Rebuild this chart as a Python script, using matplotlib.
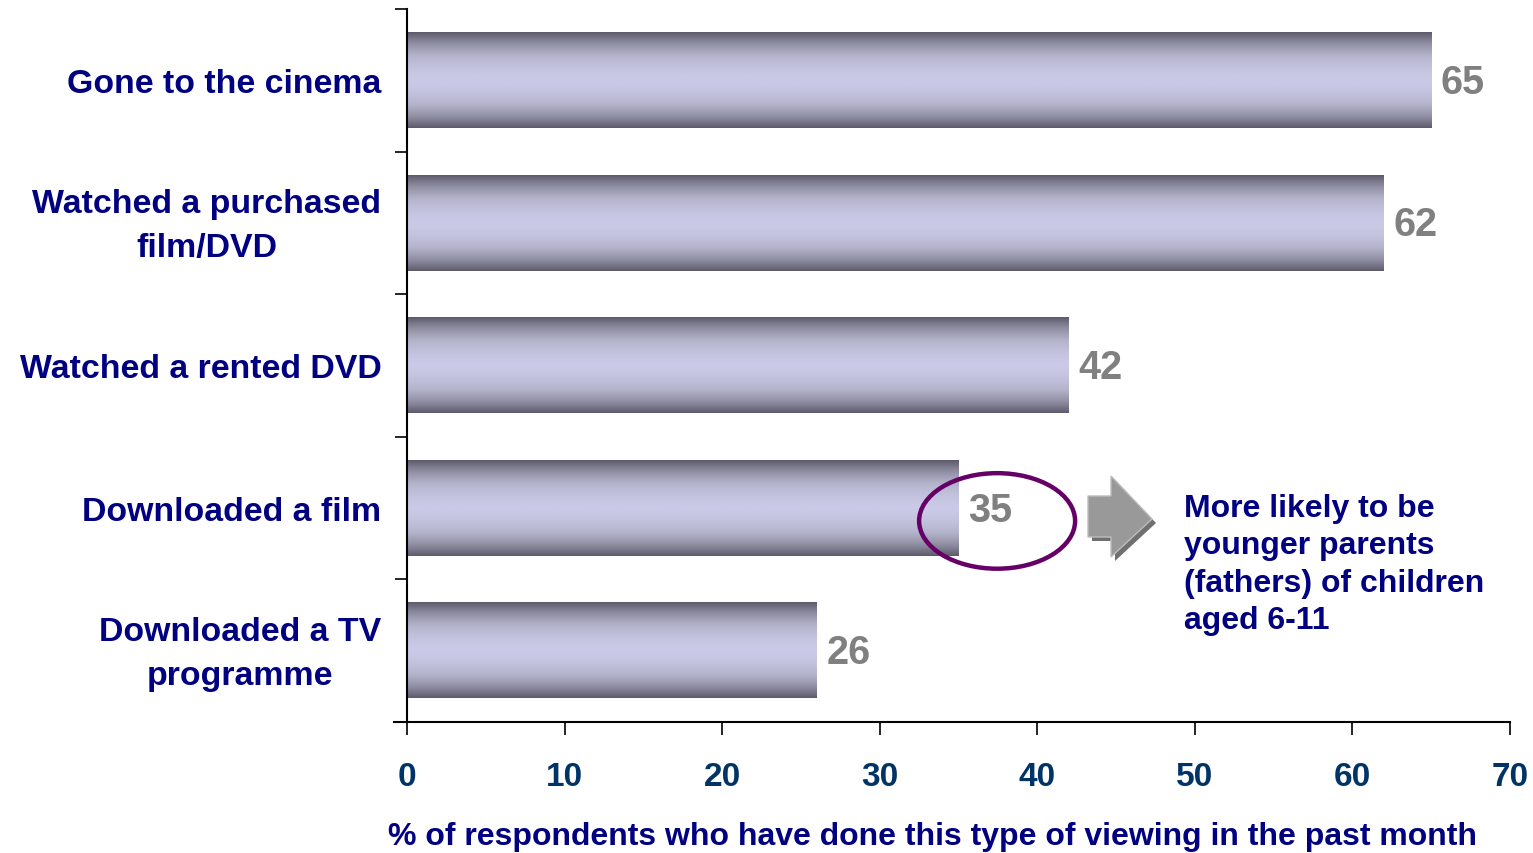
import numpy as np
import matplotlib.pyplot as plt
from matplotlib.colors import LinearSegmentedColormap
from matplotlib.patches import Ellipse, Polygon
from matplotlib.transforms import ScaledTranslation

plt.rcParams['font.family'] = ['Liberation Sans', 'DejaVu Sans']
plt.rcParams['font.weight'] = 'bold'

categories = ['Gone to the cinema', 'Watched a purchased\nfilm/DVD', 'Watched a rented DVD',
              'Downloaded a film', 'Downloaded a TV\nprogramme']
values = [65, 62, 42, 35, 26]
xticks = [0, 10, 20, 30, 40, 50, 60, 70]
note = 'More likely to be\nyounger parents\n(fathers) of children\naged 6-11'

W, H = 1533, 854
fig = plt.figure(figsize=(W / 100, H / 100), dpi=100)
ax = fig.add_axes([407 / W, 1 - 723 / H, (1510 - 407) / W, (723 - 10) / H])

ypos = np.arange(len(categories))
bar_h = 0.67

# vertical metallic gradient for the bars
cmap = LinearSegmentedColormap.from_list('metal', ['#5c5a6b', '#8e8ca0', '#b4b4cc', '#cacae8'])
t = np.linspace(-1, 1, 200)
prof = 1 - np.abs(t) ** 1.6
grad = prof.reshape(-1, 1)

bars = ax.barh(ypos, values, height=bar_h, color='none')
for y, v in zip(ypos, values):
    ax.imshow(grad, cmap=cmap, aspect='auto', interpolation='bilinear',
              extent=[0, v, y + bar_h / 2, y - bar_h / 2], zorder=2)
    ax.text(v + 0.6, y + 0.01, str(v), ha='left', va='center', fontsize=28.5,
            color='#808080', fontweight='bold', zorder=3)

ax.set_xlim(0, 70)
ax.set_ylim(len(categories) - 0.5, -0.5)
ax.set_aspect('auto')

ax.set_xticks(xticks)
ax.set_xticklabels([str(x) for x in xticks], fontsize=24, color='#003366', fontweight='bold')
ax.set_yticks(ypos)
ax.set_yticklabels(categories, fontsize=24.4, color='#000080', fontweight='bold',
                   multialignment='center', linespacing=1.52)
ax.set_yticks(np.arange(-0.5, len(categories)), minor=True)
ax.tick_params(axis='y', which='major', length=0, pad=18.5)
ax.tick_params(axis='y', which='minor', length=9, width=1.2, direction='out')
ax.tick_params(axis='x', length=9, width=1.2, direction='out', pad=19)

# two-line labels sit a bit low with va=center, nudge them up
for lab in ax.get_yticklabels():
    if '\n' in lab.get_text():
        lab.set_transform(lab.get_transform() + ScaledTranslation(0, 0.07, fig.dpi_scale_trans))

for s in ['top', 'right']:
    ax.spines[s].set_visible(False)
ax.spines['left'].set_linewidth(1.5)
ax.spines['bottom'].set_linewidth(1.5)
ax.spines['bottom'].set_bounds(-0.8, 70)

fig.text((387 + 1478) / 2 / W, 1 - 837 / H,
         '% of respondents who have done this type of viewing in the past month',
         ha='center', va='center', fontsize=23, color='#000080', fontweight='bold')

# highlight around the "Downloaded a film" value
ax.add_patch(Ellipse((37.45, 3.09), 9.9, 0.67, fill=False, edgecolor='#660066',
                     linewidth=3.2, zorder=4, clip_on=False))


def fig_poly(pts, **kw):
    xy = [(px / W, 1 - py / H) for px, py in pts]
    fig.add_artist(Polygon(xy, closed=True, transform=fig.transFigure, **kw))


arrow = [(1088, 497), (1111, 497), (1111, 477), (1152, 520), (1111, 558), (1111, 538), (1088, 538)]
fig_poly([(x + 4, y + 4) for x, y in arrow], facecolor='#707070', edgecolor='none')
fig_poly(arrow, facecolor='#999999', edgecolor='#bdbdbd', linewidth=1)

fig.text(1184 / W, 1 - 494 / H, note, ha='left', va='top', fontsize=23,
         color='#000080', fontweight='bold', linespacing=1.32)

fig.savefig('out.png', dpi=100)
